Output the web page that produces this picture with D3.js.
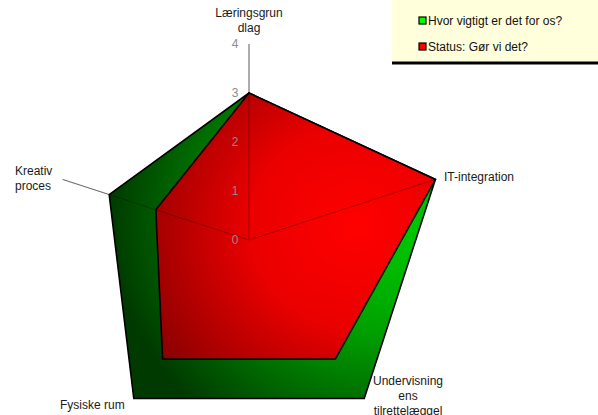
<!DOCTYPE html>
<html>
<head>
<meta charset="utf-8">
<script src="https://cdn.jsdelivr.net/npm/d3@7"></script>
<style>
  body { margin: 0; background: #fff; }
  svg { display: block; font-family: "Liberation Sans", Arial, sans-serif; }
</style>
</head>
<body>
<div id="chart"></div>
<script>
const axisLabels = [
  ["Læringsgrun", "dlag"],
  ["IT-integration"],
  ["Undervisning", "ens", "tilrettelæggel"],
  ["Fysiske rum"],
  ["Kreativ", "proces"]
];
const seriesNames = ["Hvor vigtigt er det for os?", "Status: Gør vi det?"];
const importance = [3, 4, 4, 4, 3];
const status = [3, 4, 3, 3, 2];
const ticks = [0, 1, 2, 3, 4];

document.addEventListener("DOMContentLoaded", function () {
  const width = 598,
      height = 415;
  const cx = 249, cy = 240;

  const svg = d3.select("#chart").append("svg")
      .attr("width", width)
      .attr("height", height);

  const r = d3.scaleLinear().domain([0, 4]).range([0, 196]);
  const angle = d3.scaleLinear().domain([0, axisLabels.length]).range([0, 2 * Math.PI]);

  function pt(i, v) {
    const a = angle(i) - Math.PI / 2;
    return [cx + r(v) * Math.cos(a), cy + r(v) * Math.sin(a)];
  }

  const defs = svg.append("defs");
  function radial(id, fx, fy, stops) {
    const g = defs.append("radialGradient").attr("id", id)
      .attr("cx", fx).attr("cy", fy).attr("r", "0.85");
    stops.forEach(s => g.append("stop").attr("offset", s[0]).attr("stop-color", s[1]));
  }
  radial("gGreen", "0.85", "0.4", [[0, "#00d000"], [0.45, "#00a000"], [1, "#003a00"]]);
  radial("gRed", "0.72", "0.5", [[0, "#ff0000"], [0.45, "#ea0000"], [1, "#8a0000"]]);

  // spokes behind
  svg.selectAll(".spoke")
    .data(axisLabels)
    .enter().append("line")
    .attr("class", "spoke")
    .attr("x1", cx).attr("y1", cy)
    .attr("x2", (d, i) => pt(i, 4)[0])
    .attr("y2", (d, i) => pt(i, 4)[1])
    .attr("stroke", "#999")
    .attr("stroke-width", 1);

  const line = d3.line().curve(d3.curveLinearClosed);

  const series = [
    { values: importance, fill: "url(#gGreen)" },
    { values: status, fill: "url(#gRed)" }
  ];

  svg.selectAll(".area")
    .data(series)
    .enter().append("path")
    .attr("class", "area")
    .attr("d", d => line(d.values.map((v, i) => pt(i, v))))
    .attr("fill", d => d.fill)
    .attr("stroke", "#000")
    .attr("stroke-width", 1.6)
    .attr("stroke-linejoin", "miter");

  // upper spokes show through the fills, lower ones do not
  svg.selectAll(".spoke-top")
    .data([0, 1, 4])
    .enter().append("line")
    .attr("class", "spoke-top")
    .attr("x1", cx).attr("y1", cy)
    .attr("x2", i => pt(i, 4)[0])
    .attr("y2", i => pt(i, 4)[1])
    .attr("stroke", "#000")
    .attr("stroke-opacity", 0.3)
    .attr("stroke-width", 1);

  // tick labels
  svg.selectAll(".tick-label")
    .data(ticks)
    .enter().append("text")
    .attr("class", "tick-label")
    .attr("x", cx - 14)
    .attr("y", d => cy - r(d) + 4)
    .attr("text-anchor", "middle")
    .attr("font-size", 12)
    .attr("fill", "#8c8c8c")
    .text(d => d);

  // axis labels
  const labelPos = [
    { x: 249, y: 17, anchor: "middle" },
    { x: 444, y: 181, anchor: "start" },
    { x: 408, y: 385, anchor: "middle" },
    { x: 60, y: 409, anchor: "start" },
    { x: 15, y: 175, anchor: "start" }
  ];
  axisLabels.forEach((lines, i) => {
    const p = labelPos[i];
    const t = svg.append("text")
      .attr("x", p.x).attr("y", p.y)
      .attr("text-anchor", p.anchor)
      .attr("font-size", 12)
      .attr("fill", "#1a1a1a");
    lines.forEach((s, j) => {
      t.append("tspan").attr("x", p.x).attr("dy", j === 0 ? 0 : 15).text(s);
    });
  });

  // legend
  const legend = svg.append("g");
  legend.append("rect")
    .attr("x", 392).attr("y", -2).attr("width", 210).attr("height", 64)
    .attr("fill", "#ffffdc");
  legend.append("line")
    .attr("x1", 392).attr("x2", 598).attr("y1", 63).attr("y2", 63)
    .attr("stroke", "#000").attr("stroke-width", 3);
  const legendColors = ["#00ff00", "#ff0000"];
  seriesNames.forEach((name, i) => {
    const y = 21 + i * 26;
    legend.append("rect")
      .attr("x", 419).attr("y", y - 4).attr("width", 7).attr("height", 7)
      .attr("fill", legendColors[i])
      .attr("stroke", "#000").attr("stroke-width", 1.2);
    legend.append("text")
      .attr("x", 428).attr("y", y + 4)
      .attr("font-size", 12)
      .attr("fill", "#111")
      .text(name);
  });
});
</script>
</body>
</html>
